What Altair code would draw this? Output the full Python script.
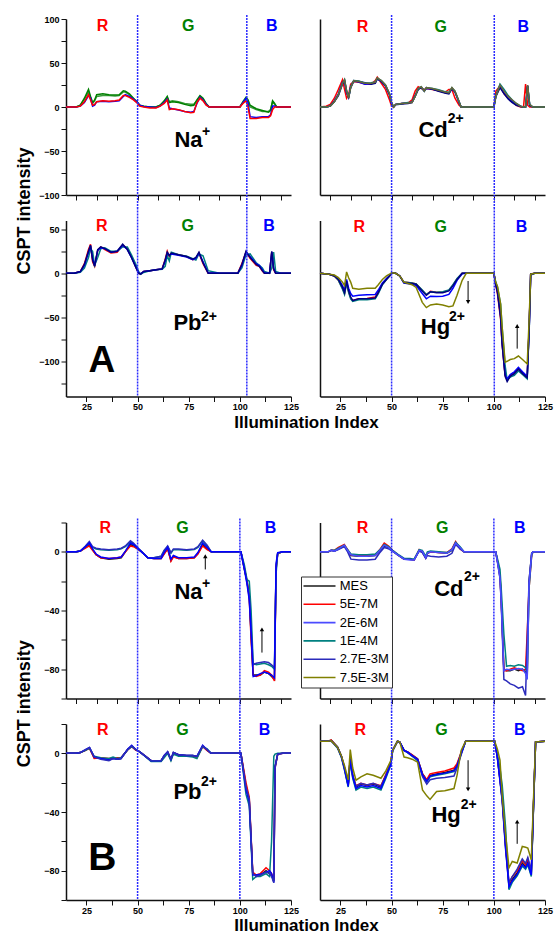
import altair as alt
import pandas as pd

FONT = "Liberation Sans"
W, H = 225, 176
XDOM = [15, 125]
XT_TOP = [20, 30, 40, 50, 60, 70, 80, 90, 100, 110, 120]
XT_BOT = [25, 37.5, 50, 62.5, 75, 87.5, 100, 112.5, 125]

C_MES = "#1a1a1a"
C_RED = "#ff0000"
C_BLUE = "#0000ff"
C_TEAL = "#008080"
C_SLATE = "#2b2bbb"
C_OLIVE = "#808000"
C_NAVY = "#000080"
C_GREEN = "#008000"
C_GREEN2 = "#3a9a3a"
C_BASE = "#66663a"
C_RULE = "#2a2aff"

LEG_NAMES = ["MES", "5E-7M", "2E-6M", "1E-4M", "2.7E-3M", "7.5E-3M"]
LEG_COLORS = [C_MES, C_RED, "#4b4bff", C_TEAL, C_SLATE, C_OLIVE]

# ---------------- A : Na+ ----------------
A1L_X = [15, 20, 22, 24, 26, 27, 28, 29, 30, 33, 36, 39, 41, 43, 44, 46, 48, 50, 51, 53, 56, 59, 61, 63, 64.5, 65.5, 67, 70, 73, 76, 77.5, 79, 80.5, 82, 83.5, 85, 90, 95, 100, 101.5, 103, 104, 105, 108, 111, 114, 115, 116, 117, 118, 120, 125]
A1L_RED = [0, 0, 1, 6, 14, 8, 2, 3, 6, 7, 6.5, 7, 8, 13, 13, 11, 8, 4, 1, 0, -1, -1, 1, 4, 8, -3, -2, -3, -5, -6.5, -6, 5, 10, 7, 2, 0, 0, 0, 0, 4, 7, 0, -13, -13, -12, -12, -10, -3, 0, 0, 0, 0]
A1L_BLUE = [0, 0, 1, 5, 13, 10, 1, 2, 6, 6.5, 6, 6.5, 7, 12, 14, 12, 9, 5, 2, 0.5, 0, -0.5, 1, 5, 9, -1, -2, -3.5, -5, -6, -5, 4, 11, 8, 3, 0, 0, 0, 0, 5, 10, 5, -11, -12, -11, -11, -9, 1, 1, 0, 0, 0]
A1L_GREEN = [0, 0, 2, 10, 20, 12, 5, 8, 14, 15, 14, 13.5, 14, 18.5, 18, 15, 10, 5, 2, 1, 0, 0, 2, 7, 12, 5, 6, 5, 3, 1.5, 2, 8, 13, 10, 4, 0, 0, 0, 0, 6, 11, 8, 2, -2, -4, -6, -4, 7, 4, 0, 0, 0]
A1L_GREEN2 = [0, 0, 2, 9, 17, 11, 4, 7, 12, 13, 13, 12.5, 13, 17, 17, 14, 9, 5, 2, 1, 0, 0, 2, 6, 11, 6, 7, 6, 4, 3, 3, 7, 12, 9, 3, 0, 0, 0, 0, 5, 9, 6, 0, -3, -5, -5, -3, 6, 3, 0, 0, 0]

# ---------------- A : Cd2+ ----------------
A1R_X = [15, 18, 20, 22, 24, 26, 27, 28, 29, 30, 31.5, 34, 37, 40, 42, 43, 45, 47, 49, 50, 51, 52, 55, 58, 60, 61.5, 63, 64.5, 66, 67, 70, 73, 76, 78, 79.5, 81, 83, 84, 90, 95, 100, 101, 103, 105, 107, 109, 111, 113, 114.5, 115.5, 116.5, 117.5, 119, 125]
A1R_BASE = [0, 0, 1, 6, 14, 27, 31, 18, 10, 22, 30, 29, 27, 27, 28, 33, 30, 25, 15, 5, 0, 3, 4, 4.5, 5, 12, 21, 23, 18, 22, 21, 19, 17, 16, 22, 18, 6, 0, 0, 0, 0, 12, 25, 18, 12, 8, 4, 1, 0, 0, 25, 3, 0, 0]
A1R_RED = [0, 1, 3, 10, 20, 31, 20, 10, 14, 26, 29, 28, 26, 26, 30, 34, 27, 20, 8, 1, 0, 3, 4, 4.5, 8, 18, 23, 21, 20, 21, 20, 18.5, 16.5, 20, 20, 10, 2, 0, 0, 0, 0, 18, 24, 15, 10, 6, 2, 0, 0, 26, 2, 0, 0, 0]
A1R_BLUE = [0, 0, 1, 7, 15, 28, 30, 16, 11, 23, 30, 28.5, 26, 26.5, 27.5, 32, 29, 24, 14, 4, 0, 3, 4, 4.5, 5.5, 13, 20, 22, 19, 21, 20.5, 18.5, 16.5, 15.5, 21, 17, 5, 0, 0, 0, 0, 13, 23, 16, 10, 6, 3, 1, 0, 0, 24, 2, 0, 0]
A1R_NAVY = [0, 0, 1, 6, 13, 26, 30, 17, 11, 22, 29, 29, 27.5, 26, 27, 32, 29, 24.5, 14, 4, 0, 2.5, 3.5, 4, 5, 12, 20, 22, 18, 22, 20, 18, 16, 15, 21, 17, 6, 0, 0, 0, 0, 12, 22, 15, 9, 5, 2, 0.5, 0, 0, 24, 2, 0, 0]
A1R_TEAL = [0, 0, 1, 6, 14, 27, 31, 19, 11, 23, 30, 29.5, 27, 27.5, 28.5, 33, 30, 25, 15, 5, 0, 3, 4, 5, 5.5, 12, 21, 23, 18, 22, 21, 19.5, 17.5, 16.5, 22, 18, 6, 0, 0, 0, 0, 13, 26, 20, 13, 8, 4, 1, 0, 0, 24, 3, 0, 0]

# ---------------- A : Pb2+ ----------------
A2L_X = [15, 19, 22, 24, 26, 27, 28, 29, 30.5, 32, 34, 37, 40, 42.7, 45, 47, 49.2, 50.5, 51.5, 53, 56, 59, 62, 63.5, 64.5, 65.5, 66.5, 70, 74, 77, 78.5, 80, 82, 84.5, 90, 95, 99, 101, 103, 105, 108, 109.5, 111, 112, 114.5, 115.6, 116.5, 117.5, 120, 125]
A2L_NAVY = [0, 0, 2, 10, 25, 32, 15, 8, 27, 30, 28, 24, 25, 33, 27, 18, 6.5, 0, -1, 2, 3, 4, 5, 15, 24, 20, 23, 21, 19, 16, 18, 24, 12, 0, 0, 0, 0, 10, 25, 18, 10, 8, 3, 0, 0, 25, 5, 0, 0, 0]
A2L_RED = [0, 0, 2, 11, 27, 33, 13, 8, 26, 30, 27, 23, 24, 32, 28, 19, 7, 0, -1, 2, 3, 4, 5, 16, 25, 19, 23, 21, 19, 15.5, 17, 23, 11, 0, 0, 0, 0, 11, 24, 17, 9, 8, 2.5, 0, 0, 24, 4, 0, 0, 0]
A2L_BLUE = [0, 0, 2, 9, 24, 31, 17, 9, 26, 29, 28, 24, 25, 32, 27, 18, 7, 0.5, -0.5, 2, 3, 4, 5, 14, 23, 21, 22, 20.5, 18.5, 15.5, 17, 23, 13, 0.5, 0, 0, 0, 9, 24, 19, 11, 9, 4, 0.5, 0, 24, 6, 0, 0, 0]
A2L_TEAL = [0, 0, 1, 6, 18, 28, 25, 9, 18, 28, 29, 25, 25, 30, 30, 21, 10, 2, -1, 1, 3, 4, 4.5, 8, 20, 14, 24, 21, 19.5, 16.5, 15, 22, 20, 3, 0, 0, 0, 6, 21, 22, 12, 9, 6, 2, 0, 6, 24, 2, 0, 0]

# ---------------- A : Hg2+ ----------------
A2R_X = [15, 19.5, 22, 24, 26, 27, 28, 29, 30, 31, 34, 38, 42, 43.5, 45.5, 47.5, 49, 50, 52, 54, 56, 60, 62, 65, 67, 69, 72, 75, 78, 80, 82, 84.5, 86.5, 90, 95, 100, 100.9, 101.8, 103.3, 104, 105.5, 106.5, 108, 110, 112, 114, 116.3, 117.3, 118, 120, 125]
A2R_NAVY = [0, -1, -3, -7, -16, -22, -9, -20, -27, -31, -29, -29, -28, -22, -12.5, -7, -3, 0, 0, -3, -10.5, -11.5, -12.5, -20, -25, -21, -22, -22, -20, -14, -7, 0, 0, 0, 0, 0, -12.5, -22, -50, -79, -117, -123, -117, -114, -109, -114, -118.5, -60, -1, 0, 0]
A2R_RED = [0, -1, -3, -8, -17, -23, -10, -21, -28, -31, -29, -28.5, -27, -21, -12, -6.5, -3, 0, 0, -3, -10, -11, -12, -19.5, -24.5, -20.5, -21.5, -21.5, -19.5, -13.5, -6.5, 0, 0, 0, 0, 0, -13, -24, -52, -80, -116, -121, -116, -113, -108, -113, -117, -58, -1, 0, 0]
A2R_TEAL = [0, -1, -3, -8, -18, -24, -11, -22, -29, -32, -30, -30, -29, -23, -13, -7, -3, 0, 0, -3, -10, -11, -12, -19, -24, -21, -21.5, -21, -19, -13, -6, 0, 0, 0, 0, 0, -10, -16, -35, -60, -105, -121, -118, -116, -111, -115, -120, -62, -2, 0, 0]
A2R_BLUE = [0, -1, -2.5, -6, -14, -19, -7, -17, -23, -26, -25, -24.5, -24, -19, -11, -6, -2.5, 0, 0, -3, -11, -12.5, -14, -23, -29, -26, -26.5, -26, -24, -17, -8, -0.5, 0, 0, 0, 0, -12, -21, -48, -78, -115, -120, -115, -112, -107, -112, -117, -60, -1, 0, 0]
A2R_OLIVE = [0, -1, -2, -5, -10, -14, 1.5, -5, -10, -17, -18, -17, -17, -13, -7, -3, -1, 0.5, 0, -3, -10, -13, -16, -33, -39, -36, -35, -36, -38, -37, -25, -8, 0, 0, 0, 0, -10, -15, -35, -60, -101, -100, -98, -97, -94, -98, -103, -50, -1, 0, 0]

# ---------------- B : Na+ ----------------
B1L_X = [15, 20, 22, 24.5, 26.4, 28, 29.7, 32, 36, 40, 42, 44, 46.5, 48, 50, 52, 55, 58, 61.5, 63, 64.7, 66.3, 67.5, 70, 74, 77.7, 79.5, 81.8, 84, 86, 90, 95, 100.5, 102.2, 103.5, 104.6, 105.5, 106.5, 108, 110, 112, 114, 115.5, 116.9, 117.7, 118.5, 121, 125]
B1L_MES = [0, 0, 0.5, 3, 5, 1.5, -2, -4, -5, -4.5, -4, 0, 5, 4, 2, 0, -4, -4.5, -4.5, -1, 2, -6, -3, -4.5, -4.5, -4, -1, 5, 2, 0, 0, 0, 0, -12, -20, -30, -57, -84, -84, -84, -82, -83, -85, -87, -10, -1, 0, 0]
B1L_RED = [0, 0, 0.5, 2.5, 4, 1, -2, -4, -4.5, -4, -3.5, 0, 4, 3.5, 2, 0, -4, -4.5, -4.5, -1.5, 2, -6.5, -3.5, -4.5, -4.5, -4, -1.5, 4, 1.5, 0, 0, 0, 0, -11, -20, -32, -60, -84, -85, -84, -81, -82, -84, -88, -12, -1, 0, 0]
B1L_2E6 = [0, 0, 0.5, 3.5, 6, 2, -1.5, -3.5, -4.5, -4, -3.5, 0.5, 6, 5, 2.5, 0, -4, -4.5, -4.5, -0.5, 3, -5, -2.5, -4, -4, -3.5, -0.5, 6, 3, 0, 0, 0, 0, -12, -22, -33, -55, -85, -84.5, -83, -82, -83, -84, -86, -8, -0.5, 0, 0]
B1L_1E4 = [0, 0, 0.5, 3.5, 6, 3, 2, 1.5, 1, 1.5, 2, 3.5, 6.5, 5, 2.5, 0, -4, -4, -3, 1, 3.6, -1, 1.5, 1.5, 1, 1.5, 3, 7.5, 4, 0, 0, 0, 0, -9, -19, -20, -40, -76, -77, -76.5, -76, -77, -78, -80, -15, -1, 0, 0]
B1L_27E3 = [0, 0, 0.5, 4, 7, 3.5, 2.5, 2, 1.5, 2, 2.5, 4, 7.5, 6, 3, 0, -4, -4, -3, 1, 4, -0.5, 2, 2, 1.5, 2, 3.5, 8, 4.5, 0, 0, 0, 0, -11, -21, -30, -52, -77, -76, -75.5, -75, -75.5, -77, -79, -12, -1, 0, 0]

# ---------------- B : Cd2+ ----------------
B1R_X = [15, 19, 20.5, 22, 24, 26.9, 28.5, 30.1, 34, 38, 42, 44, 46.4, 48.5, 50.5, 53, 56.2, 59, 61, 63.5, 65, 66.7, 67.5, 69, 73, 77, 79.5, 81.3, 83.5, 85.4, 90, 95, 100.9, 102, 103, 103.6, 104.9, 106.2, 108, 110, 112, 114, 115.5, 116.3, 117.2, 118.5, 119.2, 122, 125]
B1R_MES = [0, 0, 1, 0.5, 2, 4, 1, -2.5, -3, -3, -2.5, 0, 4, 3, 0.5, -2, -5, -5, -5.5, 1, 0, -4, -1, 0, -0.5, -1, 1, 6, 3, 0, 0, 0, 0, -8, -16, -32, -80, -81, -81, -80, -81, -80, -82, -86, -20, -1, 0, 0, 0]
B1R_RED = [0, 0, 1, 1, 3, 5, 1.5, -2, -2.5, -2.5, -2, 1, 6, 4, 1, -2, -5, -5, -5.5, 1.5, 0, -4, -1, 0, -0.5, -0.5, 2, 7, 2, 0, 0, 0, 0, -8, -17, -33, -81, -81, -80, -79, -80, -81, -80, -55, -25, -2, 0, 0, 0]
B1R_2E6 = [0, 0, 1, 0.5, 2, 4.5, 1, -2, -3, -3, -2.5, 0.5, 4.5, 3, 0.5, -2, -5, -5.5, -5.5, 1, 0.5, -4, -1, 0, -0.5, -1, 1.5, 6, 3, 0, 0, 0, 0, -9, -18, -34, -81, -80, -80.5, -80, -79.5, -80, -83, -87, -22, -1, 0, 0, 0]
B1R_1E4 = [0, 0, 1, 1, 2.5, 4.5, 1.5, -1.5, -2, -2, -1.5, 1, 5, 3.5, 1, -1.5, -4.5, -4.5, -5, 1.5, 1, -3, 0, 0.5, 0, -0.5, 1.5, 6.5, 3.5, 0, 0, 0, 0, -6, -12, -25, -56, -78, -77.5, -78, -77, -77.5, -79, -84, -25, -2, 0, 0, 0]
B1R_27E3 = [0, 0, 1, 0.5, 1.5, 3.5, 0, -5, -5.5, -5.5, -5, -1, 3, 2, 0.5, -2, -5, -5, -5.5, 0.5, -0.5, -4.5, -2.5, -3, -3.5, -3, -1, 5, 2, 0, 0, 0, 0, -9, -18, -35, -87, -88, -90, -91, -93, -92, -98, -60, -20, -1, 0, 0, 0]

# ---------------- B : Pb2+ ----------------
B2L_X = [15, 20, 22, 24.5, 26.5, 28.8, 32, 36, 38, 40, 41.9, 45.2, 47.1, 49.2, 50.5, 52, 56.6, 59, 61.5, 63, 64.7, 66.3, 67.5, 70, 74, 77, 79, 81.8, 84, 85.9, 90, 95, 100.5, 103, 104.6, 106.3, 108, 110, 112.8, 114.5, 115.5, 116.6, 117.2, 118.5, 121, 125]
B2L_MES = [0, 0, 0.5, 2, 3.6, -3, -3.5, -4, -3, -4, -3.5, 2.7, 5, 2.2, 1.5, 0, -5, -5, -5, -2, 1, -4.5, 0.5, -1, -1.5, -1.5, -2.5, 5, 2, 0, 0, 0, 0, -22, -32, -82, -83, -83, -80, -82, -83, -87, -9, -0.5, 0, 0]
B2L_RED = [0, 0, 0.5, 2, 3.5, -3.5, -3, -3.5, -3.5, -3, -3, 2.5, 4.5, 2, 1.5, 0, -5, -5, -5, -2, 0.5, -4, 0, -1.5, -2, -2, -3, 4.5, 2, 0, 0, 0, 0, -20, -30, -81, -83, -82, -78, -80, -82, -86, -10, -0.5, 0, 0]
B2L_2E6 = [0, 0, 0.5, 2.5, 4, -2.5, -3.5, -4.5, -3.5, -4, -3.5, 3, 5.5, 2.5, 1.5, 0, -5, -5, -5, -1.5, 1, -4, 0.5, -1, -1.5, -1.5, -2, 5.5, 2.5, 0, 0, 0, 0, -25, -33, -83, -83, -82.5, -81, -80, -82, -88, -9, -0.5, 0, 0]
B2L_1E4 = [0, 0, 0.5, 2, 3.5, -2, -3, -3.5, -2.5, -3.5, -3, 2.5, 4.5, 2.5, 1.5, 0, -5.5, -5.5, -5.5, -3, 0, -5, -0.5, -2, -2, -2.5, -3.5, 4.5, 3, 0, 0, 0, 0, -28, -36, -86, -84, -84, -82, -84, -60, -2, -0.5, 0, 0, 0]
B2L_27E3 = [0, 0, 0.5, 2.5, 4, -2.5, -4, -5, -3.5, -4, -3.5, 2.5, 5, 2.5, 1.5, 0, -5, -5, -5, -1.5, 1, -4, 0.5, -1, -1.5, -1.5, -2, 5, 2.5, 0, 0, 0, 0, -23, -31, -82, -84, -83, -81, -82, -84, -88.3, -10, -0.5, 0, 0]

# ---------------- B : Hg2+ ----------------
B2R_X = [15, 18.8, 20.5, 23.6, 25.5, 26.9, 28.8, 29.8, 31, 32.6, 35, 38, 41, 44.8, 47.2, 49.6, 50.5, 52.9, 54, 56.1, 57.8, 60, 62.7, 65.1, 67.2, 68.8, 72, 76, 80.5, 82, 84, 86.2, 90, 95, 100.4, 101.7, 103, 104.1, 105.7, 107.4, 109, 111.4, 113.9, 115.5, 116.6, 118.3, 120.4, 125]
B2R_MES = [8.3, 8.3, 9, 4.3, -2, -9.3, -21.7, -2.5, -15, -23, -21, -22, -21, -23, -15, -7, 2, 8.3, 7.7, 2, 0.9, -1, -3.6, -13.8, -18.3, -15, -14, -13, -11.5, -8, 0, 8.3, 8.3, 8.3, 8.3, -2.5, -18.3, -31.9, -63.5, -90.6, -86, -81.6, -74.8, -77.1, -73.7, -82.7, 7.7, 8.3]
B2R_RED = [8.3, 8.3, 9, 4, -2.5, -10, -22, -3, -16, -22, -20.5, -21.5, -20.5, -22, -14.5, -6.5, 2, 8.3, 7.7, 2, 0.9, -1, -4, -14, -18, -14, -13, -12, -10, -7, 0.5, 8.3, 8.3, 8.3, 8.3, -2, -17, -30, -62, -89, -84, -80, -73, -76, -72, -81, 7.7, 8.3]
B2R_2E6 = [8.3, 8.3, 8.5, 4, -2.5, -10, -22.5, -4, -16, -24, -22, -23, -22, -24, -16, -7.5, 2, 8.3, 7.7, 2, 0.9, -1.5, -4, -14.5, -19, -15.5, -14.5, -13.5, -12, -8.5, 0, 8.3, 8.3, 8.3, 8.3, -3, -19, -33, -65, -91, -87, -82.5, -76, -78, -75, -83, 7.7, 8.3]
B2R_1E4 = [8.3, 8.3, 8.5, 3.5, -3, -11, -23, -5, -17, -25, -23, -24, -23, -25, -17, -8, 1.5, 8.3, 7.7, 2, 0.5, -2, -5, -15, -19.5, -16, -15, -14, -12.5, -9, -0.5, 8.3, 8.3, 8.3, 8.3, -1, -10, -22, -50, -92.9, -88, -83.5, -77, -79, -76, -84, 7.5, 8.3]
B2R_27E3 = [8.3, 8.3, 8.5, 4, -2, -9.5, -21, -3, -15, -22.5, -20.5, -21.5, -20.5, -22.5, -15, -7, 2, 8.3, 7.7, 2, 0.5, -1.5, -4.5, -16, -21, -18, -17, -16.5, -15.5, -10, -1, 8.3, 8.3, 8.3, 8.3, -2.5, -18, -31, -62, -88, -84, -79, -72, -75, -71, -80, 7.7, 8.3]
B2R_75E3 = [8.3, 8.3, 8.5, 4, -2, -8, -18, 2.5, -10, -18.3, -16, -14, -15, -17, -12, -5, 2, 8.3, 7.7, -2.5, -3, -4, -6, -25, -29, -31.4, -26, -25.5, -24, -15, 2, 8.3, 8.3, 8.3, 8.3, 3, -4.7, -29.6, -55, -78, -73.7, -74.8, -63.5, -64, -64.6, -72.5, 7.7, 8.3]

# ---------------- annotations ----------------
YT_A1 = [-100, -75, -50, -25, 0, 25, 50, 75, 100]
YT_A2 = [-125, -100, -75, -50, -25, 0, 25, 50]
YT_B = [-100, -80, -60, -40, -20, 0, 20]

PANELS = {
    "A1L": dict(x=A1L_X, series=[("g2", C_GREEN2, A1L_GREEN2), ("g", C_GREEN, A1L_GREEN), ("b", C_BLUE, A1L_BLUE), ("r", C_RED, A1L_RED)],
                ydom=[-100, 100], yt=YT_A1, ystep=50, left=True, top=True, div=[50, 103.4],
                rgb=[32.9, 74.8, 115.6], rgby=7, ion=("Na", 68, -45.8), sup=("+", 81.5, -33.4)),
    "A1R": dict(x=A1R_X, series=[("r", C_RED, A1R_RED), ("b", C_BLUE, A1R_BLUE), ("n", C_NAVY, A1R_NAVY), ("t", C_TEAL, A1R_TEAL), ("o", C_BASE, A1R_BASE)],
                ydom=[-100, 100], yt=YT_A1, ystep=50, left=False, top=True, div=[50, 100.2],
                rgb=[35.8, 74, 114.4], rgby=8, ion=("Cd", 63.1, -33.8), sup=("2+", 77.4, -18.5)),
    "A2L": dict(x=A2L_X, series=[("r", C_RED, A2L_RED), ("t", C_TEAL, A2L_TEAL), ("b", C_BLUE, A2L_BLUE), ("n", C_NAVY, A2L_NAVY)],
                ydom=[-140, 60], yt=YT_A2, ystep=50, left=True, top=False, div=[50, 103.4],
                rgb=[32.5, 74.5, 114.3], rgby=5, ion=("Pb", 67.5, -64.4), sup=("2+", 81, -54.2)),
    "A2R": dict(x=A2R_X, series=[("r", C_RED, A2R_RED), ("t", C_TEAL, A2R_TEAL), ("b", C_BLUE, A2R_BLUE), ("n", C_NAVY, A2R_NAVY), ("o", C_OLIVE, A2R_OLIVE)],
                ydom=[-140, 60], yt=YT_A2, ystep=50, left=False, top=False, div=[50, 100.2],
                rgb=[34.2, 74, 113.5], rgby=6, ion=("Hg", 64.3, -69.3), sup=("2+", 78.1, -54.2)),
    "B1L": dict(x=B1L_X, series=[("MES", C_MES, B1L_MES), ("5E-7M", C_RED, B1L_RED), ("1E-4M", C_TEAL, B1L_1E4), ("2.7E-3M", C_SLATE, B1L_27E3), ("2E-6M", C_BLUE, B1L_2E6)],
                ydom=[-100, 20], yt=YT_B, ystep=40, left=True, top=True, div=[50, 100],
                rgb=[34.2, 72, 115], rgby=5, ion=("Na", 68, -32), sup=("+", 81.5, -24.7)),
    "B1R": dict(x=B1R_X, series=[("MES", C_MES, B1R_MES), ("5E-7M", C_RED, B1R_RED), ("1E-4M", C_TEAL, B1R_1E4), ("2.7E-3M", C_SLATE, B1R_27E3), ("2E-6M", C_BLUE, B1R_2E6)],
                ydom=[-100, 20], yt=YT_B, ystep=40, left=False, top=True, div=[50, 100],
                rgb=[35.8, 74.8, 112.7], rgby=5, ion=("Cd", 70.8, -29.8), sup=("2+", 85.4, -20.1)),
    "B2L": dict(x=B2L_X, series=[("MES", C_MES, B2L_MES), ("5E-7M", C_RED, B2L_RED), ("1E-4M", C_TEAL, B2L_1E4), ("2E-6M", C_BLUE, B2L_2E6), ("2.7E-3M", C_SLATE, B2L_27E3)],
                ydom=[-100, 20], yt=YT_B, ystep=40, left=True, top=False, div=[50, 100],
                rgb=[33, 72, 112], rgby=6, ion=("Pb", 67.5, -31.4), sup=("2+", 81, -22.4)),
    "B2R": dict(x=B2R_X, series=[("MES", C_MES, B2R_MES), ("5E-7M", C_RED, B2R_RED), ("1E-4M", C_TEAL, B2R_1E4), ("2.7E-3M", C_SLATE, B2R_27E3), ("2E-6M", C_BLUE, B2R_2E6), ("7.5E-3M", C_OLIVE, B2R_75E3)],
                ydom=[-100, 20], yt=YT_B, ystep=40, left=False, top=False, div=[50, 100],
                rgb=[34.7, 74.4, 112.7], rgby=6, ion=("Hg", 69.5, -46.6), sup=("2+", 83.8, -38.2)),
}

ARROWS = {
    "A2R": dict(x=[87.4, 111.4], y1=[-8.75, -85.6], y2=[-32.6, -59.9], shp=["triangle-down", "triangle-up"]),
    "B1L": dict(x=[83.1, 110.8], y1=[-12, -68.7], y2=[-3, -52.9], shp=["triangle-up", "triangle-up"]),
    "B2R": dict(x=[87.4, 111.4], y1=[-4.7, -61.7], y2=[-24.6, -46.6], shp=["triangle-down", "triangle-up"]),
}
BIG = {"A2L": ("A", 32.5, -111.7, 37), "B2L": ("B", 32.8, -79.3, 39)}
YTITLE = {"A2L": -10, "B2L": -20.7}
XTITLE = {"A2L": 31, "B2L": 30}


def build(key, legend=False):
    p = PANELS[key]
    rows = []
    for name, col, ys in p["series"]:
        for xv, yv in zip(p["x"], ys):
            rows.append({"x": xv, "y": yv, "s": name, "c": col})
    df = pd.DataFrame(rows)

    if p["top"]:
        xax = alt.Axis(values=XT_TOP, labels=False, title="")
    else:
        kw = dict(values=XT_BOT, labelExpr="datum.value % 25 == 0 ? datum.label : ''",
                  labelFlush=False, labelOverlap=False, labelPadding=1)
        if key in XTITLE:
            kw.update(title="Illumination Index", titleX=240, titleY=XTITLE[key], titleBaseline="alphabetic",
                      titleAlign="center", titleFontSize=17)
        else:
            kw.update(title="")
        xax = alt.Axis(**kw)
    if p["left"]:
        kw = dict(values=p["yt"], labelExpr="datum.value %% %d == 0 ? datum.label : ''" % p["ystep"],
                  labelOverlap=False)
        if key in YTITLE:
            kw.update(title="CSPT intensity", titleX=-36.5, titleY=YTITLE[key], titleAngle=270,
                      titleBaseline="alphabetic", titleAlign="center", titleFontSize=18)
        else:
            kw.update(title="")
        yax = alt.Axis(**kw)
    else:
        yax = alt.Axis(labels=False, ticks=False, title="")

    xsc = alt.Scale(domain=XDOM, nice=False, zero=False)
    ysc = alt.Scale(domain=p["ydom"], nice=False, zero=False)

    def X(f="x"):
        return alt.X(f + ":Q", scale=xsc, axis=xax)

    def Y(f="y"):
        return alt.Y(f + ":Q", scale=ysc, axis=yax)

    if legend:
        color = alt.Color("s:N", scale=alt.Scale(domain=LEG_NAMES, range=LEG_COLORS),
                          legend=alt.Legend(title=None, orient="none", legendX=-19, legendY=54,
                                            symbolType="M-4,0H4", symbolSize=64, symbolStrokeWidth=1.6,
                                            symbolOffset=9, labelOffset=13.7, labelFont=FONT,
                                            labelFontSize=13, labelColor="black", rowPadding=4.3,
                                            padding=3, strokeColor="#333333", fillColor="white"))
    else:
        color = alt.Color("c:N", scale=None)

    layers = [alt.Chart(df).mark_line(strokeWidth=1.5).encode(x=X(), y=Y(), color=color, detail="s:N")]

    y1, y2 = (-4, H + 13) if p["top"] else (-13, H)
    layers.append(alt.Chart(pd.DataFrame({"x": p["div"]})).mark_rule(
        color=C_RULE, strokeWidth=1.5, strokeDash=[2, 1]).encode(x=X(), y=alt.value(y1), y2=alt.value(y2)))

    for letter, col, xv in zip(["R", "G", "B"], [C_RED, C_GREEN, C_BLUE], p["rgb"]):
        layers.append(alt.Chart(pd.DataFrame({"x": [xv], "t": [letter]})).mark_text(
            font=FONT, fontSize=16, fontWeight="bold", baseline="middle", color=col).encode(
            x=X(), y=alt.value(p["rgby"]), text="t:N"))

    t, xv, yv = p["ion"]
    layers.append(alt.Chart(pd.DataFrame({"x": [xv], "y": [yv], "t": [t]})).mark_text(
        font=FONT, fontSize=22, fontWeight="bold", align="left", baseline="alphabetic", color="black").encode(
        x=X(), y=Y(), text="t:N"))
    t, xv, yv = p["sup"]
    layers.append(alt.Chart(pd.DataFrame({"x": [xv], "y": [yv], "t": [t]})).mark_text(
        font=FONT, fontSize=14, fontWeight="bold", align="left", baseline="alphabetic", color="black").encode(
        x=X(), y=Y(), text="t:N"))

    if key in ARROWS:
        adf = pd.DataFrame(ARROWS[key])
        layers.append(alt.Chart(adf).mark_rule(color="black", strokeWidth=1).encode(
            x=X(), y=Y("y1"), y2="y2:Q"))
        layers.append(alt.Chart(adf).mark_point(filled=True, color="black", size=20, opacity=1).encode(
            x=X(), y=Y("y2"), shape=alt.Shape("shp:N", scale=None)))

    if key in BIG:
        t, xv, yv, fs = BIG[key]
        layers.append(alt.Chart(pd.DataFrame({"x": [xv], "y": [yv], "t": [t]})).mark_text(
            font=FONT, fontSize=fs, fontWeight="bold", align="center", baseline="alphabetic", color="black").encode(
            x=X(), y=Y(), text="t:N"))

    return alt.layer(*layers).properties(width=W, height=H)


def spacer():
    return alt.Chart(pd.DataFrame({"v": [0]})).mark_point(opacity=0).encode(
        x=alt.value(0), y=alt.value(0)).properties(width=W, height=75)


cells = [build("A1L"), build("A1R"), build("A2L"), build("A2R"), spacer(), spacer(),
         build("B1L"), build("B1R", legend=True), build("B2L"), build("B2R")]

chart = alt.concat(*cells, columns=2, spacing={"row": 25.5, "column": 29}, bounds="flush").resolve_scale(
    color="independent").resolve_legend(color="independent").properties(
    padding={"left": 14, "top": 13, "right": 0, "bottom": 0}).configure_view(
    stroke="transparent").configure_axis(
    labelFont=FONT, labelFontWeight="bold", labelFontSize=9, labelColor="black",
    titleFont=FONT, titleFontWeight="bold", titleColor="black",
    domainColor="#111111", domainWidth=1.5, tickColor="#111111", tickWidth=1, tickSize=5,
    grid=False, labelPadding=2)

chart.save("out.html", embed_options={"renderer": "svg", "actions": False})
